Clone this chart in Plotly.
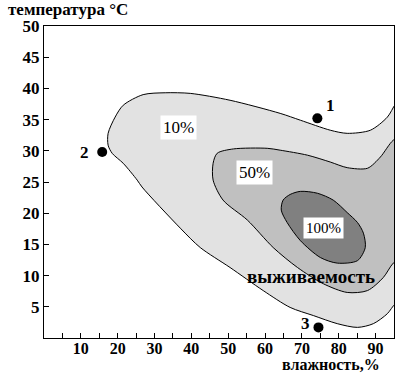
import plotly.graph_objects as go

# contour outlines (влажность %, температура °C)
outer_x = [17.4, 17.4, 19.3, 21.5, 26.9, 32.9, 39.7, 50.5, 64.1, 69.6, 77.7, 82.3, 88.6, 93.2, 95.4, 97.8,
           97.8, 95.4, 93.2, 89.4, 85.1, 79.6, 73.1, 66.8, 59.5, 50.5, 42.4, 37.0, 26.6, 25.3, 21.5, 18.5]
outer_y = [30.9, 32.8, 35.4, 37.3, 39.0, 39.3, 39.2, 38.1, 36.0, 34.9, 33.3, 32.8, 33.3, 35.4, 37.5, 39.0,
           6.0, 5.5, 3.9, 2.3, 1.7, 2.3, 3.6, 4.9, 7.6, 11.3, 14.5, 17.6, 24.2, 25.3, 28.0, 29.6]

mid_x = [97.8, 94.8, 91.3, 87.8, 82.3, 77.7, 71.5, 64.1, 60.6, 51.4, 47.0, 45.9, 45.9, 48.6, 55.2, 62.2,
         68.8, 75.8, 82.3, 87.8, 92.1, 94.8, 97.8]
mid_y = [32.5, 31.7, 29.0, 27.2, 27.3, 28.2, 29.3, 30.1, 30.4, 30.3, 29.6, 28.0, 25.3, 22.1, 18.9, 14.5,
         11.3, 8.7, 7.3, 7.6, 9.7, 12.0, 13.2]

inner_x = [64.9, 66.8, 69.6, 74.2, 78.5, 82.3, 85.1, 86.7, 87.2, 85.1, 79.6, 75.0, 69.6, 66.0, 64.4]
inner_y = [22.1, 23.0, 23.5, 23.2, 22.1, 20.1, 18.5, 16.8, 14.5, 12.4, 12.0, 12.9, 15.6, 18.5, 20.5]

level_labels = ["10%", "50%", "100%"]
level_x = [36.4, 57.1, 75.8]
level_y = [33.7, 26.5, 17.6]
level_sizes = [17, 17, 15]

pt_names = ["1", "2", "3"]
pt_x = [74.2, 15.8, 74.5]
pt_y = [35.2, 29.8, 1.7]
pt_lbl_x = [77.7, 11.1, 70.9]
pt_lbl_y = [37.3, 29.8, 2.3]

x_tickvals = list(range(5, 95, 5))
x_ticktext = [str(v) if v % 10 == 0 else "" for v in x_tickvals]
y_tickvals = list(range(5, 51, 5))
y_ticktext = [str(v) for v in y_tickvals]

FONT = "Liberation Serif, Times New Roman, serif"

fig = go.Figure()
for xs, ys, col in [(outer_x, outer_y, "#e2e2e2"), (mid_x, mid_y, "#c0c0c0"), (inner_x, inner_y, "#808080")]:
    fig.add_trace(go.Scatter(x=xs + [xs[0]], y=ys + [ys[0]], mode="lines", fill="toself",
                             fillcolor=col, line=dict(color="black", width=1, shape="spline", smoothing=0.8),
                             hoverinfo="skip", showlegend=False))

fig.add_trace(go.Scatter(x=pt_x, y=pt_y, mode="markers",
                         marker=dict(color="black", size=10), showlegend=False))

for t, x, y, s in zip(level_labels, level_x, level_y, level_sizes):
    fig.add_annotation(x=x, y=y, text=t, showarrow=False, bgcolor="white", borderpad=2,
                       font=dict(family=FONT, size=s, color="black"))

for t, x, y in zip(pt_names, pt_lbl_x, pt_lbl_y):
    fig.add_annotation(x=x, y=y, text="<b>" + t + "</b>", showarrow=False,
                       font=dict(family=FONT, size=17, color="black"))

fig.add_annotation(x=72.6, y=9.9, text="<b>выживаемость</b>", showarrow=False,
                   font=dict(family=FONT, size=19, color="black"))

fig.add_annotation(xref="paper", yref="paper", x=0.069, y=1.054, xanchor="center", yanchor="middle",
                   text="<b>температура °C</b>",
                   showarrow=False, font=dict(family=FONT, size=17, color="black"))
fig.add_annotation(xref="paper", yref="paper", x=0.82, y=-0.085, xanchor="center", yanchor="middle",
                   text="<b>влажность,%</b>",
                   showarrow=False, font=dict(family=FONT, size=16, color="black"))

axis_common = dict(showgrid=False, zeroline=False, showline=True, linecolor="black", linewidth=1,
                   mirror=True, ticks="inside", ticklen=5, tickcolor="black")
fig.update_xaxes(range=[0, 95], tickvals=x_tickvals, ticktext=["<b>%s</b>" % t if t else "" for t in x_ticktext],
                 ticklabelstandoff=-4, tickfont=dict(family=FONT, size=16, color="black"), **axis_common)
fig.update_yaxes(range=[0, 50], tickvals=y_tickvals, ticktext=["<b>%s</b>" % t for t in y_ticktext],
                 tickfont=dict(family=FONT, size=17, color="black"), **axis_common)

fig.update_layout(width=396, height=373, margin=dict(l=44, r=2, t=26, b=35),
                  plot_bgcolor="white", paper_bgcolor="white", font=dict(family=FONT))
fig.write_html("out.html", config={"displayModeBar": False},
               post_script="document.body.style.margin='0';document.body.style.overflow='hidden';")
